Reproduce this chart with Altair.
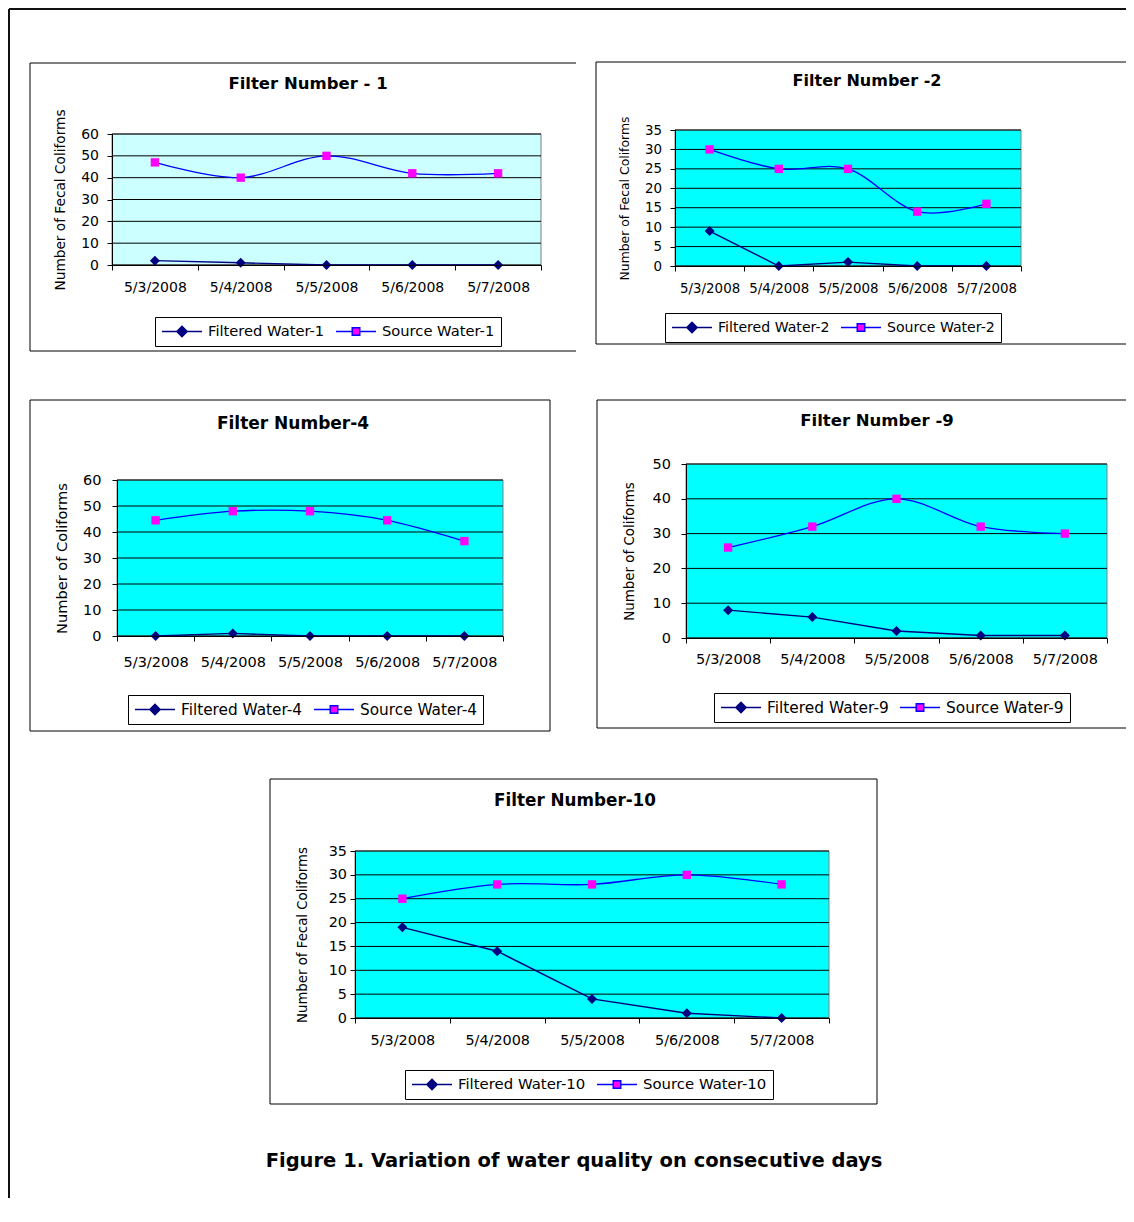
import altair as alt
import pandas as pd

# ---------------- data ----------------
dates = ["5/3/2008", "5/4/2008", "5/5/2008", "5/6/2008", "5/7/2008"]

filtered_1 = [2, 1, 0, 0, 0]
source_1 = [47, 40, 50, 42, 42]

filtered_2 = [9, 0, 1, 0, 0]
source_2 = [30, 25, 25, 14, 16]

filtered_4 = [0, 1, 0, 0, 0]
source_4 = [44.5, 48, 48, 44.5, 36.5]

filtered_9 = [8, 6, 2, 0.7, 0.7]
source_9 = [26, 32, 40, 32, 30]

filtered_10 = [19, 14, 4, 1, 0]
source_10 = [25, 28, 28, 30, 28]

yticks_60 = [0, 10, 20, 30, 40, 50, 60]
yticks_50 = [0, 10, 20, 30, 40, 50]
yticks_35 = [0, 5, 10, 15, 20, 25, 30, 35]

caption = "Figure 1. Variation of water quality on consecutive days"

# ---------------- styling / layout ----------------
FONT = "DejaVu Sans"
NAVY, BLUE, MAGENTA = "#000080", "#0000FF", "#FF00FF"
ONE = pd.DataFrame({"k": [0]})
M = 8            # page margin: chart coords = page coords - 8
CW, CH = 1118, 1190

DIAMOND_PATH = "M-1,0L1,0M0,-0.26L0.26,0L0,0.26L-0.26,0Z"
SQUARE_PATH = "M-1,0L-0.2,0M0.2,0L1,0M-0.19,-0.19L0.19,-0.19L0.19,0.19L-0.19,0.19Z"


def rule(x1, y1, x2, y2, sw=1.0, color="black"):
    enc = {"x": alt.value(x1 - M), "y": alt.value(y1 - M)}
    if x2 != x1:
        enc["x2"] = alt.value(x2 - M)
    if y2 != y1:
        enc["y2"] = alt.value(y2 - M)
    return alt.Chart(ONE).mark_rule(color=color, strokeWidth=sw).encode(**enc)


def text(t, x, y, size, weight="normal"):
    return alt.Chart(ONE).mark_text(
        font=FONT, fontSize=size, fontWeight=weight, color="black",
        align="center", baseline="middle",
    ).encode(x=alt.value(x - M), y=alt.value(y - M), text=alt.value(t))


def frame(x1, y1, x2, y2, sides):
    out = []
    if "t" in sides:
        out.append(rule(x1, y1, x2, y1))
    if "b" in sides:
        out.append(rule(x1, y2, x2, y2))
    if "l" in sides:
        out.append(rule(x1, y1, x1, y2))
    if "r" in sides:
        out.append(rule(x2, y1, x2, y2))
    return out


def panel(num, filtered, source, ticks, cfg):
    x0, y0, x1, y1 = [v - M for v in cfg["plot"]]
    names = [f"Filtered Water-{num}", f"Source Water-{num}"]
    df = pd.DataFrame({
        "date": dates * 2,
        "series": [names[0]] * len(dates) + [names[1]] * len(dates),
        "value": list(filtered) + list(source),
    })
    grid_df = pd.DataFrame({"value": ticks})

    x = alt.X(
        "date:N", sort=dates, bandPosition=0.5,
        scale=alt.Scale(type="band", range=[x0, x1], paddingInner=0, paddingOuter=0),
        axis=alt.Axis(
            orient="bottom", offset=y1 - CH, zindex=1,
            title=None, labelAngle=0, labelFont=FONT, labelFontSize=cfg["tick_fs"],
            labelColor="black", labelPadding=cfg["xlab_pad"], tickSize=5,
            tickColor="black", tickBand="extent", domainColor="black",
            grid=False, labelOverlap=False,
        ),
    )
    y = alt.Y(
        "value:Q",
        scale=alt.Scale(domain=[0, ticks[-1]], range=[y1, y0], nice=False),
        axis=alt.Axis(
            orient="left", offset=-x0, zindex=1, values=ticks,
            title=cfg["ytitle"], titleFont=FONT, titleFontSize=cfg["ytitle_fs"],
            titleFontWeight="normal", titleColor="black",
            titleX=cfg["ytitle_x"] - M - x0, titleY=(y0 + y1) / 2, titleAngle=270,
            titleBaseline="middle", titleAlign="center",
            labelFont=FONT, labelFontSize=cfg["tick_fs"], labelColor="black",
            labelPadding=cfg["ylab_pad"], tickSize=5, tickColor="black",
            domainColor="black", grid=False,
        ),
    )
    legend = alt.Legend(
        orient="none", legendX=cfg["legend_xy"][0] - M, legendY=cfg["legend_xy"][1] - M,
        direction="horizontal", title=None,
        labelFont=FONT, labelFontSize=cfg["legend_fs"], labelColor="black",
        symbolSize=1600, symbolStrokeWidth=1.4, clipHeight=17,
        strokeColor="black", fillColor="white", padding=6,
        labelOffset=5, columnPadding=10,
    )

    bg = alt.Chart(ONE).mark_rect(fill=cfg["bg"], stroke="#808080", strokeWidth=1).encode(
        x=alt.value(x0), x2=alt.value(x1), y=alt.value(y0), y2=alt.value(y1))
    grid = alt.Chart(grid_df).mark_rule(color="black", strokeWidth=1).encode(
        y=y, x=alt.value(x0), x2=alt.value(x1))

    base = alt.Chart(df)
    fdat = base.transform_filter(alt.datum.series == names[0])
    sdat = base.transform_filter(alt.datum.series == names[1])
    line_f = fdat.mark_line(strokeWidth=1.4, color=NAVY).encode(x=x, y=y)
    line_s = sdat.mark_line(strokeWidth=1.3, color=BLUE, interpolate="cardinal").encode(x=x, y=y)
    pts_f = fdat.mark_point(filled=True, shape="diamond", size=100, color=NAVY,
                            opacity=1, strokeWidth=0).encode(x=x, y=y)
    pts_s = sdat.mark_point(filled=True, shape="square", size=70, color=MAGENTA,
                            opacity=1, strokeWidth=0).encode(x=x, y=y)
    # legend-only layer: no rows drawn, the legend comes from the explicit scale domains
    leg = base.transform_filter("false").mark_point(filled=True, opacity=1).encode(
        shape=alt.Shape("series:N", scale=alt.Scale(domain=names, range=[DIAMOND_PATH, SQUARE_PATH]), legend=legend),
        fill=alt.Fill("series:N", scale=alt.Scale(domain=names, range=[NAVY, MAGENTA]), legend=legend),
        stroke=alt.Stroke("series:N", scale=alt.Scale(domain=names, range=[NAVY, BLUE]), legend=legend),
    )

    decor = frame(*cfg["frame"], cfg["sides"])
    decor.append(text(cfg["title"], cfg["title_xy"][0], cfg["title_xy"][1], cfg["title_fs"], "bold"))
    return decor, alt.layer(bg, grid, line_f, line_s, pts_f, pts_s, leg)


# page coordinates (left, top, right, bottom)
P1 = dict(plot=(112, 134, 541, 265), bg="#CCFFFF",
          frame=(30, 63, 576, 351), sides="tlb",
          title="Filter Number - 1", title_xy=(308, 84), title_fs=16.5,
          ytitle="Number of Fecal Coliforms", ytitle_x=60, ytitle_fs=13.7,
          tick_fs=14, xlab_pad=10, ylab_pad=8.5, legend_xy=(155, 317), legend_fs=14.7)
P2 = dict(plot=(675, 130, 1021, 266), bg="#00FFFF",
          frame=(596, 62, 1140, 344), sides="tlb",
          title="Filter Number -2", title_xy=(867, 81), title_fs=16,
          ytitle="Number of Fecal Coliforms", ytitle_x=624, ytitle_fs=12.4,
          tick_fs=13.4, xlab_pad=10.5, ylab_pad=8.5, legend_xy=(665, 313), legend_fs=14.1)
P4 = dict(plot=(117, 480, 503, 636), bg="#00FFFF",
          frame=(30, 400, 550, 731), sides="tlbr",
          title="Filter Number-4", title_xy=(293, 424), title_fs=17,
          ytitle="Number of Coliforms", ytitle_x=62, ytitle_fs=14.6,
          tick_fs=14.5, xlab_pad=14.5, ylab_pad=11, legend_xy=(128, 695), legend_fs=15.3)
P9 = dict(plot=(686, 464, 1107, 638), bg="#00FFFF",
          frame=(597, 400, 1140, 728), sides="tlb",
          title="Filter Number -9", title_xy=(877, 421), title_fs=16.5,
          ytitle="Number of Coliforms", ytitle_x=629, ytitle_fs=13.4,
          tick_fs=14.5, xlab_pad=9.5, ylab_pad=10.5, legend_xy=(714, 693), legend_fs=15.4)
P10 = dict(plot=(355, 851, 829, 1018), bg="#00FFFF",
           frame=(270, 779, 877, 1104), sides="tlbr",
           title="Filter Number-10", title_xy=(575, 801), title_fs=16.8,
           ytitle="Number of Fecal Coliforms", ytitle_x=302, ytitle_fs=13.3,
           tick_fs=14.4, xlab_pad=10.5, ylab_pad=3.5, legend_xy=(405, 1070), legend_fs=14.9)

decor = [
    rule(9, 9, 1140, 9, sw=2, color="#111111"),
    rule(9, 9, 9, 1240, sw=2, color="#111111"),
    text(caption, 574, 1161, 19.5, "bold"),
]
panels = []
for num, f, s, t, cfg in [
    (1, filtered_1, source_1, yticks_60, P1),
    (2, filtered_2, source_2, yticks_35, P2),
    (4, filtered_4, source_4, yticks_60, P4),
    (9, filtered_9, source_9, yticks_50, P9),
    (10, filtered_10, source_10, yticks_35, P10),
]:
    d, p = panel(num, f, s, t, cfg)
    decor += d
    panels.append(p)

chart = alt.layer(*decor, *panels).resolve_scale(
    x="independent", y="independent",
    shape="independent", fill="independent", stroke="independent",
).properties(
    width=CW, height=CH, padding=0, background="white",
    autosize=alt.AutoSizeParams(type="none"),
).configure_view(stroke="transparent")

chart.save("out.html", embed_options={"renderer": "svg", "actions": False})
